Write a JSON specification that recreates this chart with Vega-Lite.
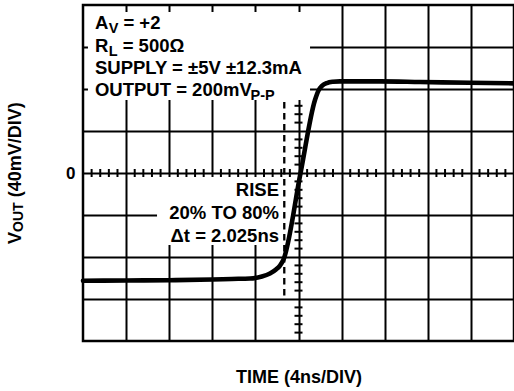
{
  "$schema": "https://vega.github.io/schema/vega-lite/v6.json",
  "autosize": "none",
  "padding": {"left": 83, "top": 5, "right": 0, "bottom": 50},
  "width": 431,
  "height": 336,
  "background": "white",
  "config": {
    "view": {"stroke": "black", "strokeWidth": 2.5},
    "font": "Liberation Sans",
    "axis": {"gridColor": "black", "gridOpacity": 1, "gridWidth": 2, "domain": false, "ticks": false}
  },
  "datasets": {
    "curve": [
      {"t": -20, "v": -102.6}, {"t": -16, "v": -102.4}, {"t": -12, "v": -102.1}, {"t": -8, "v": -101.4},
      {"t": -6.2, "v": -100.9}, {"t": -4.5, "v": -100.5}, {"t": -3.4, "v": -98.6}, {"t": -2.65, "v": -95.7},
      {"t": -2.09, "v": -91.9}, {"t": -1.72, "v": -88.1}, {"t": -1.41, "v": -82.9}, {"t": 0.19, "v": 0},
      {"t": 1.53, "v": 69.5}, {"t": 1.86, "v": 78.6}, {"t": 2.18, "v": 82.9}, {"t": 2.64, "v": 85.7},
      {"t": 3.2, "v": 86.9}, {"t": 3.85, "v": 87.3}, {"t": 7.56, "v": 87.3}, {"t": 11.28, "v": 86.7},
      {"t": 15.92, "v": 85.9}, {"t": 20, "v": 85.4}
    ],
    "xticks": [
      {"t": -19.2}, {"t": -18.4}, {"t": -17.6}, {"t": -16.8}, {"t": -15.2}, {"t": -14.4}, {"t": -13.6}, {"t": -12.8},
      {"t": -11.2}, {"t": -10.4}, {"t": -9.6}, {"t": -8.8}, {"t": -7.2}, {"t": -6.4}, {"t": -5.6}, {"t": -4.8},
      {"t": -3.2}, {"t": -2.4}, {"t": -1.6}, {"t": -0.8}, {"t": 0.8}, {"t": 1.6}, {"t": 2.4}, {"t": 3.2},
      {"t": 4.8}, {"t": 5.6}, {"t": 6.4}, {"t": 7.2}, {"t": 8.8}, {"t": 9.6}, {"t": 10.4}, {"t": 11.2},
      {"t": 12.8}, {"t": 13.6}, {"t": 14.4}, {"t": 15.2}, {"t": 16.8}, {"t": 17.6}, {"t": 18.4}, {"t": 19.2}
    ],
    "yticks": [
      {"v": 64}, {"v": 56}, {"v": 48}, {"v": 32}, {"v": 24}, {"v": 16}, {"v": 8},
      {"v": -8}, {"v": -16}, {"v": -24}, {"v": -32}, {"v": -48}, {"v": -56}, {"v": -64}, {"v": -72},
      {"v": -88}, {"v": -96}, {"v": -104}, {"v": -112}, {"v": -128}, {"v": -136}, {"v": -144}, {"v": -152}
    ],
    "boxes": [
      {"t1": -19.54, "t2": 1.07, "v1": 153.3, "v2": 69.5},
      {"t1": -13.13, "t2": -0.51, "v1": -3.8, "v2": -68.6}
    ],
    "dash": [{"t": -1.32, "v1": 67.6, "v2": -118}],
    "mainText": [
      {"t": -18.89, "v": 137.1, "text": "A"},
      {"t": -16.25, "v": 137.1, "text": "= +2"},
      {"t": -18.89, "v": 115.7, "text": "R"},
      {"t": -16.32, "v": 115.7, "text": "= 500Ω"},
      {"t": -18.89, "v": 94.2, "text": "SUPPLY = ±5V ±12.3mA"},
      {"t": -18.89, "v": 72.9, "text": "OUTPUT = 200mV"}
    ],
    "subText": [
      {"t": -17.6, "v": 133.3, "text": "V"},
      {"t": -17.6, "v": 111.9, "text": "L"},
      {"t": -4.45, "v": 69.1, "text": "P-P"}
    ],
    "riseText": [
      {"t": -1.81, "v": -21.9, "text": "RISE"},
      {"t": -1.81, "v": -43.8, "text": "20% TO 80%"},
      {"t": -1.81, "v": -65.7, "text": "Δt = 2.025ns"}
    ],
    "yTitle": [
      {"t": -25.75, "v": -67.6, "text": "V", "size": "main"},
      {"t": -25.57, "v": -56.2, "text": "OUT", "size": "sub"},
      {"t": -25.75, "v": -23.2, "text": "(40mV/DIV)", "size": "main"}
    ]
  },
  "encoding": {
    "x": {"type": "quantitative", "scale": {"domain": [-20, 20], "nice": false, "zero": false},
      "axis": {"values": [-16, -12, -8, -4, 0, 4, 8, 12, 16], "labels": false, "title": "TIME (4ns/DIV)",
        "titleFont": "Liberation Sans", "titleFontSize": 18, "titleFontWeight": "bold", "titleColor": "black", "titlePadding": 27}},
    "y": {"type": "quantitative", "scale": {"domain": [-160, 160], "nice": false, "zero": false},
      "axis": {"values": [-120, -80, -40, 0, 40, 80, 120], "labelExpr": "datum.value == 0 ? '0' : ''",
        "labelFont": "Liberation Sans", "labelFontSize": 17, "labelFontWeight": "bold", "labelColor": "black", "labelPadding": 8, "title": null}}
  },
  "layer": [
    {
      "data": {"name": "boxes"},
      "mark": {"type": "rect", "fill": "white", "stroke": null},
      "encoding": {"x": {"field": "t1"}, "x2": {"field": "t2"}, "y": {"field": "v1"}, "y2": {"field": "v2"}}
    },
    {
      "data": {"name": "xticks"},
      "mark": {"type": "tick", "orient": "vertical", "size": 8, "thickness": 2, "color": "black", "opacity": 1},
      "encoding": {"x": {"field": "t"}, "y": {"datum": 0}}
    },
    {
      "data": {"name": "yticks"},
      "mark": {"type": "tick", "orient": "horizontal", "size": 8, "thickness": 2, "color": "black", "opacity": 1},
      "encoding": {"y": {"field": "v"}, "x": {"datum": 0}}
    },
    {
      "data": {"name": "dash"},
      "mark": {"type": "rule", "color": "black", "strokeWidth": 2.3, "strokeDash": [6.5, 4.5]},
      "encoding": {"x": {"field": "t"}, "y": {"field": "v1"}, "y2": {"field": "v2"}}
    },
    {
      "data": {"name": "curve"},
      "mark": {"type": "line", "color": "black", "strokeWidth": 4.6, "interpolate": "monotone", "strokeCap": "round"},
      "encoding": {"x": {"field": "t"}, "y": {"field": "v"}}
    },
    {
      "data": {"name": "mainText"},
      "mark": {"type": "text", "align": "left", "baseline": "alphabetic", "font": "Liberation Sans", "fontSize": 18.5, "fontWeight": "bold", "color": "black"},
      "encoding": {"x": {"field": "t"}, "y": {"field": "v"}, "text": {"field": "text"}}
    },
    {
      "data": {"name": "subText"},
      "mark": {"type": "text", "align": "left", "baseline": "alphabetic", "font": "Liberation Sans", "fontSize": 14.5, "fontWeight": "bold", "color": "black"},
      "encoding": {"x": {"field": "t"}, "y": {"field": "v"}, "text": {"field": "text"}}
    },
    {
      "data": {"name": "riseText"},
      "mark": {"type": "text", "align": "right", "baseline": "alphabetic", "font": "Liberation Sans", "fontSize": 18.5, "fontWeight": "bold", "color": "black"},
      "encoding": {"x": {"field": "t"}, "y": {"field": "v"}, "text": {"field": "text"}}
    },
    {
      "data": {"name": "yTitle"},
      "mark": {"type": "text", "align": "left", "baseline": "alphabetic", "angle": 270, "font": "Liberation Sans", "fontWeight": "bold", "color": "black"},
      "encoding": {"x": {"field": "t"}, "y": {"field": "v"}, "text": {"field": "text"},
        "size": {"field": "size", "type": "nominal", "scale": {"domain": ["main", "sub"], "range": [18, 14]}, "legend": null}}
    }
  ]
}
